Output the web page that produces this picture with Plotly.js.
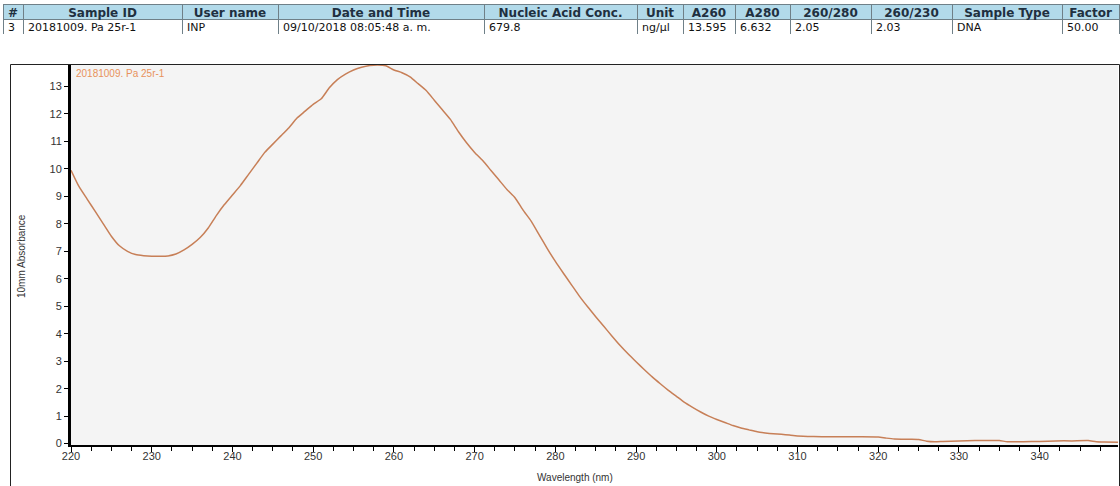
<!DOCTYPE html>
<html>
<head>
<meta charset="utf-8">
<script src="https://cdn.plot.ly/plotly-3.0.1.min.js"></script>
<style>html,body{margin:0;padding:0;background:#fff;}#chart{width:1120px;height:486px;}</style>
</head>
<body>
<div id="chart"></div>
<script>
// ---- data ----
const wavelength = [220,221,222,223,224,225,226,227,228,229,230,231,232,233,234,235,236,237,238,239,
  240,241,242,243,244,245,246,247,248,249,250,251,252,253,254,255,256,257,258,259,
  260,261,262,263,264,265,266,267,268,269,270,271,272,273,274,275,276,277,278,279,
  280,281,282,283,284,285,286,287,288,289,290,291,292,293,294,295,296,297,298,299,
  300,301,302,303,304,305,306,307,308,309,310,312,314,316,318,320,321,322,324,325,
  326,327,328,330,332,334,335,336,338,340,342,344,346,347,348,350];
const absorbance = [9.95,9.35,8.9,8.45,8.0,7.55,7.2,7.0,6.88,6.84,6.82,6.82,6.83,6.9,7.05,7.25,7.5,7.85,8.3,8.7,
  9.05,9.4,9.8,10.2,10.6,10.9,11.2,11.5,11.85,12.1,12.35,12.55,12.95,13.25,13.45,13.6,13.7,13.76,13.78,13.75,
  13.6,13.5,13.35,13.1,12.85,12.5,12.15,11.8,11.35,10.95,10.6,10.3,9.95,9.6,9.25,8.95,8.5,8.1,7.6,7.1,
  6.63,6.2,5.78,5.36,4.98,4.62,4.27,3.92,3.58,3.27,2.98,2.7,2.43,2.18,1.94,1.72,1.5,1.32,1.15,1.0,
  0.88,0.77,0.66,0.57,0.5,0.43,0.39,0.36,0.34,0.31,0.28,0.26,0.25,0.25,0.25,0.24,0.2,0.17,0.16,0.15,
  0.09,0.07,0.08,0.1,0.11,0.11,0.11,0.07,0.07,0.08,0.1,0.1,0.11,0.07,0.06,0.05];
const seriesName = '20181009. Pa 25r-1';

const tableHeaders = ['#','Sample ID','User name','Date and Time','Nucleic Acid Conc.','Unit','A260','A280','260/280','260/230','Sample Type','Factor'];
const tableRow = ['3','20181009. Pa 25r-1','INP','09/10/2018 08:05:48 a. m.','679.8','ng/µl','13.595','6.632','2.05','2.03','DNA','50.00'];
const columnWidths = [20,159,96,206,153,46,52,55,81,81,110,57];

const xTitle = 'Wavelength (nm)';
const yTitle = '10mm Absorbance';

// ---- layout helpers (pixel -> paper) ----
const W = 1120, H = 486;
const px = v => v / W;
const py = v => 1 - v / H;

const blank = tableHeaders.map(() => '');
const noFill = {color: 'rgba(0,0,0,0)'};
const noLine = {color: 'rgba(0,0,0,0)', width: 0};
const hdrFont = {family: 'DejaVu Sans', size: 12, weight: 'bold', color: '#1f3040'};
const cellFont = {family: 'DejaVu Sans', size: 11, color: '#111111'};

const traces = [
  {
    type: 'scatter', mode: 'lines', x: wavelength, y: absorbance, name: seriesName,
    line: {color: '#c77f57', width: 1.5, shape: 'spline', smoothing: 0.5},
    xaxis: 'x', yaxis: 'y', hoverinfo: 'x+y'
  },
  // table grid: fills and borders
  {
    type: 'table',
    domain: {x: [px(3), px(1119)], y: [py(34), py(4)]},
    columnwidth: columnWidths,
    header: {values: blank, height: 15, fill: {color: '#b2daea'}, line: {color: '#6f8088', width: 1}, font: hdrFont},
    cells: {values: blank.map(v => [v]), height: 15, fill: {color: '#ffffff'}, line: {color: '#6f8088', width: 1}, font: cellFont}
  },
  // header text
  {
    type: 'table',
    domain: {x: [px(3), px(1119)], y: [py(46), py(0)]},
    columnwidth: columnWidths,
    header: {values: tableHeaders, align: 'center', height: 15, fill: noFill, line: noLine, font: hdrFont},
    cells: {values: blank.map(v => [v]), height: 15, fill: noFill, line: noLine, font: cellFont}
  },
  // data row text
  {
    type: 'table',
    domain: {x: [px(0), px(1116)], y: [py(46), py(0)]},
    columnwidth: columnWidths,
    header: {values: blank, height: 15, fill: noFill, line: noLine, font: hdrFont},
    cells: {values: tableRow.map(v => [v]), align: 'left', height: 15, fill: noFill, line: noLine, font: cellFont}
  }
];

const tickFont = {family: 'Liberation Sans, Arial, sans-serif', size: 11, color: '#333333'};

const layout = {
  width: W, height: H,
  margin: {l: 0, r: 0, t: 0, b: 0},
  paper_bgcolor: '#ffffff',
  plot_bgcolor: '#f4f4f4',
  showlegend: false,
  xaxis: {
    domain: [px(71), px(1118)],
    range: [220, 349.7],
    tick0: 220, dtick: 10,
    ticks: 'outside', ticklen: 5, tickwidth: 1, tickcolor: '#000',
    minor: {dtick: 2.5, tick0: 220, ticks: 'outside', ticklen: 4, tickwidth: 1, tickcolor: '#000', showgrid: false},
    showline: true, linecolor: '#000', linewidth: 2,
    showgrid: false, zeroline: false,
    ticklabelstandoff: -5,
    tickfont: tickFont
  },
  yaxis: {
    domain: [py(445), py(65)],
    range: [-0.05, 13.78],
    tick0: 0, dtick: 1,
    ticks: 'outside', ticklen: 4, tickwidth: 1, tickcolor: '#000',
    showline: true, linecolor: '#000', linewidth: 3,
    showgrid: false, zeroline: false,
    tickfont: tickFont
  },
  shapes: [
    {type: 'rect', xref: 'paper', yref: 'paper', x0: px(10.5), x1: px(1119.5), y0: py(520), y1: py(64.5),
     line: {color: '#222', width: 1}, fillcolor: 'rgba(0,0,0,0)', layer: 'above'}
  ],
  annotations: [
    {xref: 'paper', yref: 'paper', x: px(74), y: py(66), xanchor: 'left', yanchor: 'top', showarrow: false,
     text: seriesName, font: {family: 'Liberation Sans, Arial, sans-serif', size: 10, color: '#e8925c'}},
    {xref: 'paper', yref: 'paper', x: px(575), y: py(477), xanchor: 'center', yanchor: 'middle', showarrow: false,
     text: xTitle, font: {family: 'Liberation Sans, Arial, sans-serif', size: 10, color: '#333'}},
    {xref: 'paper', yref: 'paper', x: px(21), y: py(256), xanchor: 'center', yanchor: 'middle', showarrow: false,
     textangle: -90, text: yTitle, font: {family: 'Liberation Sans, Arial, sans-serif', size: 10, color: '#333'}}
  ]
};

Plotly.newPlot('chart', traces, layout, {displayModeBar: false, staticPlot: true});
</script>
</body>
</html>
